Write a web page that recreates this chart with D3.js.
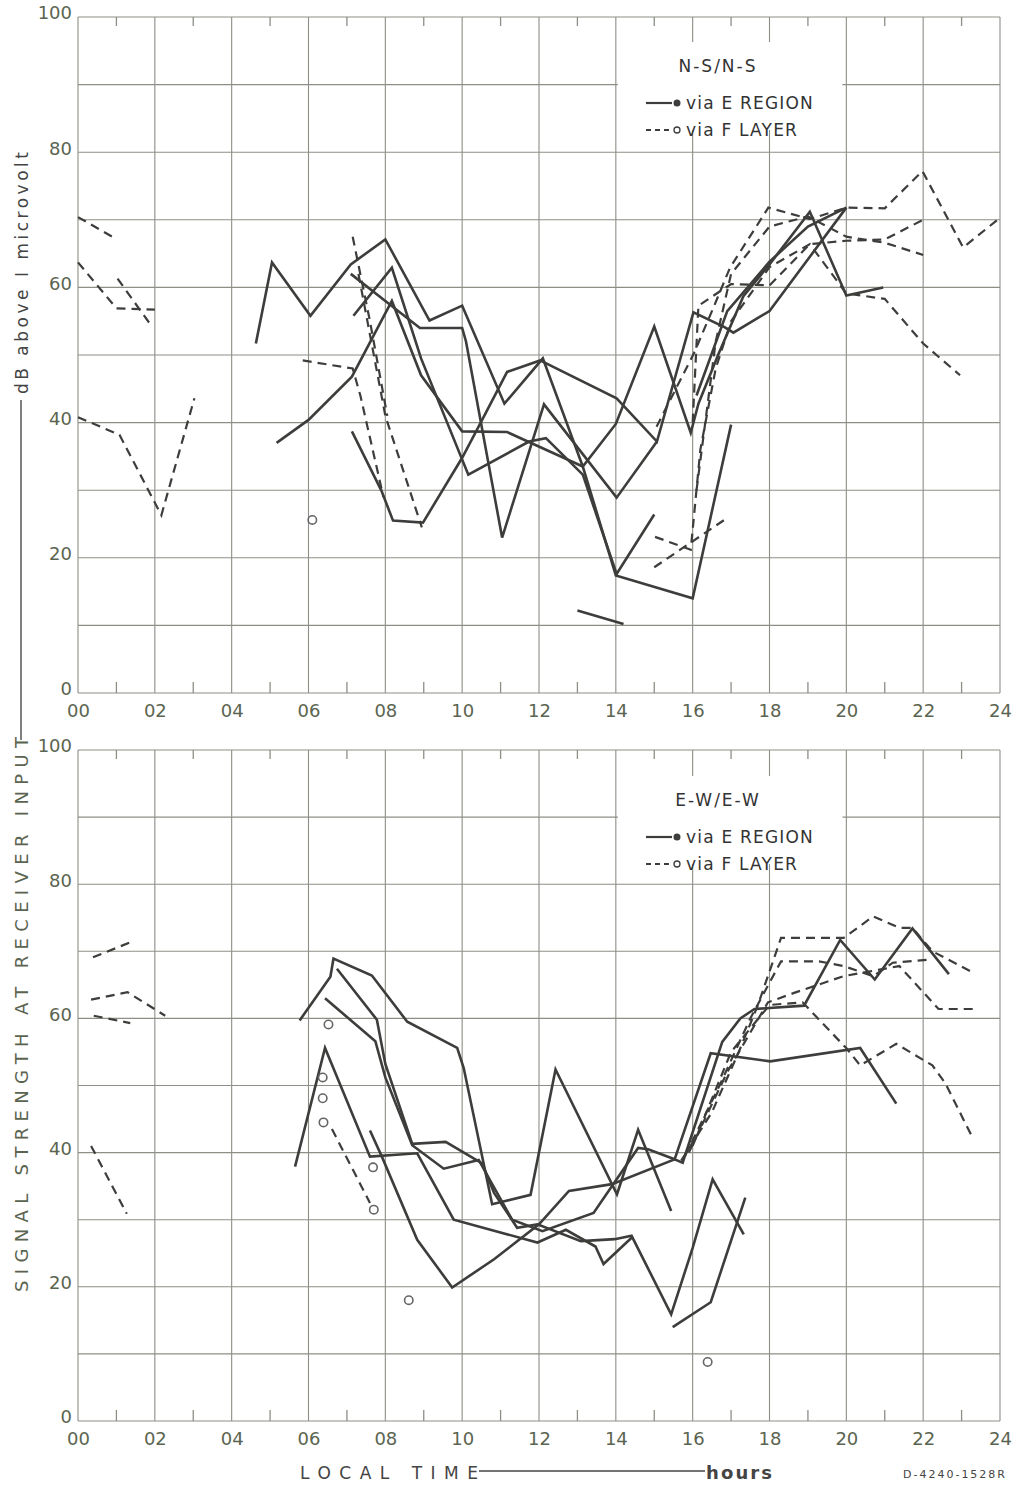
<!DOCTYPE html>
<html><head><meta charset="utf-8">
<script src="https://cdn.jsdelivr.net/npm/d3@7"></script>
<style>body{margin:0;background:#fff}svg{display:block}</style>
</head><body>
<svg id="c" width="1018" height="1485"></svg>
<script>
// ---------- tick labels ----------
const xTickLabels = ["00","02","04","06","08","10","12","14","16","18","20","22","24"];
const yTickValues = [0,20,40,60,80,100];

// ---------- legend ----------
const topTitle = "N-S/N-S";
const bottomTitle = "E-W/E-W";
const legendLabels = ["via E REGION","via F LAYER"];

// ---------- N-S/N-S panel: via E region (solid) [hour, dB] ----------
const nsE1 = [[4.63,51.7],[5.05,63.7],[6.05,55.8],[7.1,63.4],[8.0,67.1],[9.15,55.1],[10.0,57.3],[11.1,42.8],[12.1,49.5],[13.14,33.5],[14.0,39.8],[15.0,54.2],[15.95,38.5],[16.15,42.8],[16.67,50.1],[17.32,58.7],[18.0,63.4],[19.05,71.2],[20.0,58.8],[20.96,60]];
const nsE2 = [[7.1,62],[8.0,58],[8.9,54],[10.0,54],[10.1,52],[11.04,23],[12.13,42.7],[14.02,28.9],[15.07,37.2]];
const nsE3 = [[7.13,38.7],[7.9,29.9],[8.2,25.5],[8.98,25.2],[10.0,34.8],[10.52,40.4],[11.17,47.5],[12.03,49.2],[14.02,43.6],[15.07,37.2],[16.02,56.3],[16.84,54.1],[17.06,53.3],[18.0,56.5],[20.0,71.8]];
const nsE4 = [[5.17,37],[6.0,40.4],[7.13,46.8],[8.17,58],[8.93,47],[10.0,38.7],[11.17,38.6],[13.14,33.5],[14.0,17.4],[16.0,14],[17.0,39.7]];
const nsE5 = [[7.17,55.8],[8.17,62.9],[8.93,49.5],[10.16,32.3],[11.74,37.2],[12.18,37.7],[13.14,32.3],[14.02,17.6],[15.0,26.4]];
const nsE6 = [[13.0,12.2],[14.2,10.2]];
const nsE7 = [[16.1,44],[16.9,56.5],[18.0,63.8],[19.0,69],[20.0,71.8]];

// ---------- N-S/N-S panel: via F layer (dashed) ----------
const nsF1 = [[0,70.4],[0.95,67.3]];
const nsF2 = [[0,63.7],[1.0,56.9],[2.0,56.7]];
const nsF3 = [[1.03,61.3],[1.9,54.4]];
const nsF4 = [[0,40.8],[1.08,38.2],[2.17,26.3],[3.03,43.6]];
const nsF5 = [[5.85,49.2],[7.15,48],[7.35,44],[7.95,29]];
const nsF6 = [[7.15,67.5],[7.6,55],[8.05,41]];
const nsF7 = [[7.3,62],[8.0,41],[8.95,24.5]];
const nsF8 = [[15.06,39.4],[16.02,50.1],[16.54,57],[16.97,62.9],[17.97,71.8],[19.05,70.1],[20.0,71.8],[21.0,71.7],[21.98,77.2],[23.04,65.9],[24.0,70.3]];
const nsF9 = [[15.02,23.1],[15.95,21.2],[16.2,36],[16.6,48],[17.0,55],[18.0,63],[19.05,66.4],[20.0,59.1],[21.0,58.3],[22.0,51.7],[22.96,47]];
const nsF10 = [[15.0,18.6],[16.9,25.9]];
const nsF11 = [[16.0,40],[16.15,57.3],[17.0,60.5],[18.0,60.3],[19.05,66.4],[20.0,66.9],[21.0,67.1],[22.0,70]];
const nsF12 = [[16.1,30],[16.6,52],[17.0,62],[18.0,69],[19.0,70.5],[20.0,67.5],[21.0,66.6],[22.0,64.8]];
const nsCircles = [[6.1,25.6]];

// ---------- E-W/E-W panel: via E region (solid) ----------
const ewE1 = [[5.77,59.7],[6.57,66.2],[6.65,68.9],[7.65,66.4],[8.57,59.5],[9.87,55.6],[10.04,52.6],[10.78,32.3],[11.78,33.7],[12.43,52.4],[14.03,33.8],[14.58,43.4],[15.44,31.3]];
const ewE2 = [[6.74,67.4],[7.78,59.8],[8.0,53.2],[8.7,41.3],[9.57,41.6],[10.52,38.4],[10.83,34],[11.43,28.8],[11.96,29.3],[13.09,26.8],[13.97,27.1],[14.41,27.6],[15.44,15.9],[16.0,25.8],[16.52,36],[17.33,27.8]];
const ewE3 = [[5.65,37.9],[6.43,55.6],[7.6,39.4],[8.83,39.9],[9.78,30],[11.96,26.6],[12.7,28.5],[13.47,26],[13.68,23.4],[14.41,27.3]];
const ewE4 = [[7.6,43.3],[7.91,39.4],[8.83,27],[9.74,19.9],[10.83,24.1],[12.0,29.3],[12.78,34.3],[13.9,35.3],[15.53,39],[15.74,38.5],[16.77,56.5],[17.24,60],[17.61,61.4],[18.9,61.9],[19.84,71.7],[20.74,65.8],[21.72,73.4],[22.67,66.6]];
const ewE5 = [[6.43,63],[7.74,56.6],[8.0,51.2],[8.7,41.1],[9.52,37.6],[10.43,38.9],[11.3,30],[12.09,28.3],[13.42,31],[14.58,40.7],[14.84,40.5],[15.53,39],[16.47,54.8],[18.02,53.6],[20.36,55.6],[21.3,47.3]];
const ewE6 = [[15.48,14],[16.47,17.7],[17.37,33.3]];

// ---------- E-W/E-W panel: via F layer (dashed) ----------
const ewF1 = [[0.39,69.1],[1.43,71.5]];
const ewF2 = [[0.34,62.8],[1.29,63.9],[2.27,60.4]];
const ewF3 = [[0.41,60.4],[1.36,59.3]];
const ewF4 = [[0.34,41],[1.27,30.9]];
const ewF5 = [[6.61,43.5],[7.6,32.5]];
const ewF6 = [[15.7,38.8],[16.5,46],[17.2,55],[17.7,62],[18.3,72],[19.93,72],[20.7,75.2],[21.38,73.5],[21.72,73.5],[22.24,70],[23.31,66.8]];
const ewF7 = [[15.8,39.5],[16.7,50],[17.5,60],[18.3,68.5],[19.29,68.5],[19.93,67.8],[20.7,66.3],[21.21,68.3],[22.24,68.8]];
const ewF8 = [[15.9,40],[16.9,52],[17.96,62.4],[18.64,63.8],[19.93,66.3],[21.38,67.8],[22.4,61.4],[23.31,61.4]];
const ewF9 = [[16.0,41],[17.0,55],[18.0,62],[18.86,62.4],[20.01,55.5],[20.36,53],[21.3,56.2],[22.24,53],[22.58,50.3],[23.27,42.4]];
const ewCircles = [[6.52,59.1],[6.37,51.2],[6.37,48.1],[6.39,44.5],[7.68,37.8],[7.7,31.5],[8.61,18],[16.39,8.8]];

const panels = [
  {title: topTitle, yRange:[693,17], solid:[nsE1,nsE2,nsE3,nsE4,nsE5,nsE6,nsE7],
   dashed:[nsF1,nsF2,nsF3,nsF4,nsF5,nsF6,nsF7,nsF8,nsF9,nsF10,nsF11,nsF12], circles: nsCircles, legendY: 66},
  {title: bottomTitle, yRange:[1421,750], solid:[ewE1,ewE2,ewE3,ewE4,ewE5,ewE6],
   dashed:[ewF1,ewF2,ewF3,ewF4,ewF5,ewF6,ewF7,ewF8,ewF9], circles: ewCircles, legendY: 800}
];

const svg = d3.select("#c");
svg.append("rect").attr("width",1018).attr("height",1485).attr("fill","#fff");
const x = d3.scaleLinear().domain([0,24]).range([78,1000]);
const gridCol = "#8c8f86", inkCol = "#3d3d3b", labCol = "#5b6450";
const font = "DejaVu Sans, sans-serif";

panels.forEach(p => {
  const y = d3.scaleLinear().domain([0,100]).range(p.yRange);
  const g = svg.append("g");
  // grid
  g.selectAll(".v").data(d3.range(0,25,2)).join("line")
    .attr("x1",d=>x(d)).attr("x2",d=>x(d)).attr("y1",y(100)).attr("y2",y(0))
    .attr("stroke",gridCol).attr("stroke-width",1.1);
  g.selectAll(".h").data(d3.range(0,101,10)).join("line")
    .attr("x1",x(0)).attr("x2",x(24)).attr("y1",d=>y(d)).attr("y2",d=>y(d))
    .attr("stroke",gridCol).attr("stroke-width",1.1);
  // minor ticks at odd hours
  const odd = d3.range(1,24,2);
  g.selectAll(".tt").data(odd).join("line")
    .attr("x1",d=>x(d)).attr("x2",d=>x(d)).attr("y1",y(100)).attr("y2",y(100)+9)
    .attr("stroke",gridCol).attr("stroke-width",1.3);
  g.selectAll(".tb").data(odd).join("line")
    .attr("x1",d=>x(d)).attr("x2",d=>x(d)).attr("y1",y(0)).attr("y2",y(0)-11)
    .attr("stroke",gridCol).attr("stroke-width",1.3);
  // legend background (covers grid between 14h and 20h)
  const ly = p.legendY;
  g.append("rect").attr("x",x(14)+2).attr("y",ly-24).attr("width",x(19.9)-x(14)-2).attr("height",88).attr("fill","#fff");
  // axes labels via d3 axes
  const xa = d3.axisBottom(x).tickValues(d3.range(0,25,2)).tickSize(0).tickPadding(0)
      .tickFormat((d,i)=>xTickLabels[i]);
  const gx = g.append("g").attr("transform",`translate(0,${y(0)+13})`).call(xa);
  gx.select(".domain").remove();
  gx.selectAll("text").attr("font-family",font).attr("font-size",18).attr("fill",labCol).attr("dy","0.6em");
  const ya = d3.axisLeft(y).tickValues(yTickValues).tickSize(0).tickPadding(0);
  const gy = g.append("g").attr("transform",`translate(${x(0)-6},0)`).call(ya);
  gy.select(".domain").remove();
  gy.selectAll("text").attr("font-family",font).attr("font-size",18).attr("fill",labCol).attr("dy","0.1em");
  // data
  const line = d3.line().x(d=>x(d[0])).y(d=>y(d[1]));
  g.selectAll(".sl").data(p.solid).join("path").attr("d",line)
    .attr("fill","none").attr("stroke",inkCol).attr("stroke-width",2.6).attr("stroke-linejoin","miter");
  g.selectAll(".dl").data(p.dashed).join("path").attr("d",line)
    .attr("fill","none").attr("stroke",inkCol).attr("stroke-width",2.2).attr("stroke-dasharray","9,6");
  g.selectAll(".ci").data(p.circles).join("circle")
    .attr("cx",d=>x(d[0])).attr("cy",d=>y(d[1])).attr("r",4.2)
    .attr("fill","none").attr("stroke","#666").attr("stroke-width",1.6);
  // legend
  g.append("text").attr("x",718).attr("y",ly+6).attr("text-anchor","middle")
    .attr("font-family",font).attr("font-size",17).attr("letter-spacing",2).attr("fill","#333").text(p.title);
  g.append("line").attr("x1",646).attr("x2",672).attr("y1",ly+37).attr("y2",ly+37).attr("stroke",inkCol).attr("stroke-width",2.2);
  g.append("circle").attr("cx",677).attr("cy",ly+37).attr("r",3.5).attr("fill",inkCol);
  g.append("line").attr("x1",646).attr("x2",672).attr("y1",ly+64).attr("y2",ly+64).attr("stroke",inkCol).attr("stroke-width",2).attr("stroke-dasharray","5,4");
  g.append("circle").attr("cx",677).attr("cy",ly+64).attr("r",3).attr("fill","none").attr("stroke",inkCol).attr("stroke-width",1.3);
  legendLabels.forEach((t,i)=>{
    g.append("text").attr("x",686).attr("y",ly+43+i*27).attr("font-family",font).attr("font-size",17)
      .attr("letter-spacing",1.2).attr("fill","#333").text(t);
  });
});

// y-axis title
const yt = svg.append("g").attr("font-family",font).attr("fill",labCol);
yt.append("text").attr("transform","translate(28,1292) rotate(-90)").attr("font-size",18)
  .attr("textLength",555).attr("lengthAdjust","spacing").text("SIGNAL STRENGTH AT RECEIVER INPUT");
yt.append("line").attr("x1",21).attr("x2",21).attr("y1",400).attr("y2",740).attr("stroke","#555").attr("stroke-width",1.5);
yt.append("text").attr("transform","translate(28,394) rotate(-90)").attr("font-size",17)
  .attr("textLength",242).attr("lengthAdjust","spacing").attr("fill","#444").text("dB above I microvolt");

// x-axis title
const xt = svg.append("g").attr("font-family",font).attr("fill","#444");
xt.append("text").attr("x",300).attr("y",1479).attr("font-size",17).attr("textLength",178).attr("lengthAdjust","spacing").text("LOCAL   TIME");
xt.append("line").attr("x1",479).attr("x2",705).attr("y1",1471).attr("y2",1471).attr("stroke","#444").attr("stroke-width",1.5);
xt.append("text").attr("x",706).attr("y",1479).attr("font-size",18).attr("font-weight","bold").attr("textLength",66).attr("lengthAdjust","spacing").text("hours");
xt.append("text").attr("x",903).attr("y",1478).attr("font-size",11).attr("textLength",102).attr("lengthAdjust","spacing").text("D-4240-1528R");
</script>
</body></html>
